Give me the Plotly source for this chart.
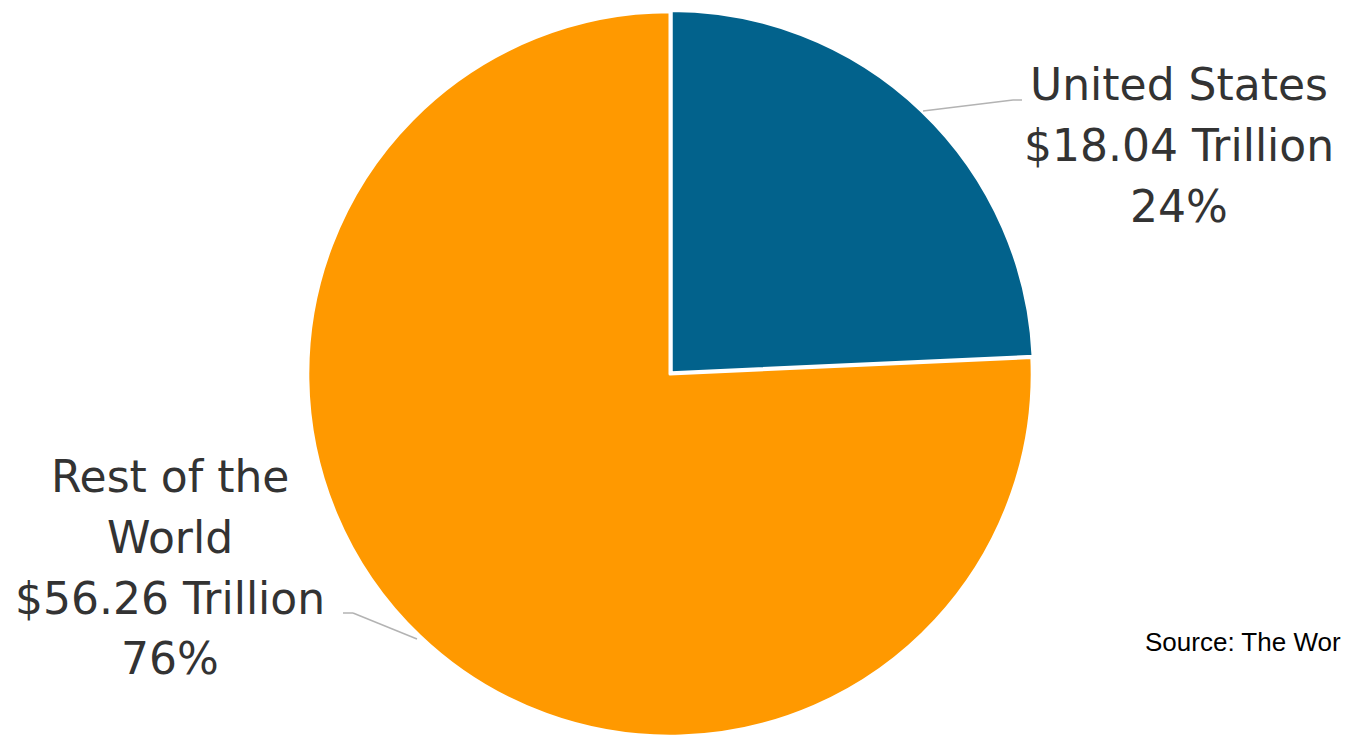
import plotly.graph_objects as go

# ---- data ----
regions = ["United States", "Rest of the World"]
gdp_trillion = [18.04, 56.26]
label_lines = [["United States"], ["Rest of the", "World"]]
colors = ["#02628c", "#ff9900"]
source_text = "Source: The Wor"

W, H = 1350, 738
OFF = 8          # page body margin offset
MT, MB = 2, 8
PH = H - MT - MB


def px(x):
    # reference screen pixel -> paper x
    return (x - OFF) / W


def py(y):
    # reference screen pixel -> paper y
    return (H - MB - (y - OFF)) / PH


total = sum(gdp_trillion)
pcts = [round(v / total * 100) for v in gdp_trillion]

cx, r = 670, 364
fig = go.Figure(go.Pie(
    labels=regions,
    values=gdp_trillion,
    sort=False,
    direction="clockwise",
    rotation=0,
    marker=dict(colors=colors, line=dict(color="white", width=3)),
    pull=[0.005, 0],
    textinfo="none",
    hoverinfo="label+value+percent",
    showlegend=False,
    domain=dict(x=[px(cx - r), px(cx + r)], y=[0, 1]),
))

# label blocks: (center x, first line y) in reference pixels
label_pos = [(1179, 85), (170, 477)]
line_step = 60.5
annotations = []
for i, (name_lines, v, p) in enumerate(zip(label_lines, gdp_trillion, pcts)):
    lines = name_lines + [f"${v:.2f} Trillion", f"{p}%"]
    lx, ly = label_pos[i]
    for k, t in enumerate(lines):
        annotations.append(dict(
            text=t, x=px(lx), y=py(ly + k * line_step), xref="paper", yref="paper",
            xanchor="center", yanchor="middle", showarrow=False,
            font=dict(family="DejaVu Sans", size=44, color="#333333"),
        ))

annotations.append(dict(
    text=source_text, x=px(1143), y=py(642), xref="paper", yref="paper",
    xanchor="left", yanchor="middle", showarrow=False,
    font=dict(family="Liberation Sans, Arial", size=26, color="#000000"),
))

leader_paths = [
    [(923, 111), (1013, 100), (1022, 100)],
    [(417, 639), (353, 613), (343, 613)],
]
shapes = []
for path in leader_paths:
    for (x0, y0), (x1, y1) in zip(path[:-1], path[1:]):
        shapes.append(dict(type="line", xref="paper", yref="paper",
                           x0=px(x0), y0=py(y0), x1=px(x1), y1=py(y1),
                           line=dict(color="#b3b3b3", width=1.5)))

fig.update_layout(
    width=W, height=H,
    margin=dict(l=0, r=0, t=MT, b=MB, pad=0),
    paper_bgcolor="white", plot_bgcolor="white",
    annotations=annotations, shapes=shapes,
)

fig.write_html("out.html")
